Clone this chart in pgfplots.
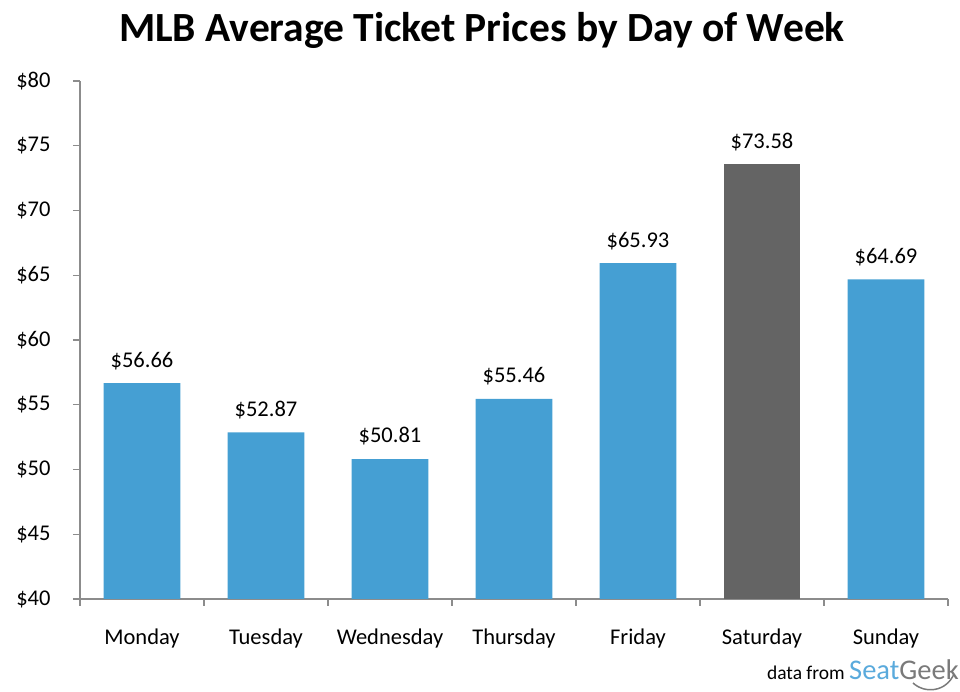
\documentclass[border=0pt]{standalone}
\usepackage{fontspec}
\setmainfont{Carlito}
\usepackage{pgfplots}
\pgfplotsset{compat=1.18}
\definecolor{barblue}{HTML}{459FD3}
\definecolor{bargray}{HTML}{646464}
\definecolor{axisgray}{HTML}{8C8C8C}
\definecolor{seatblue}{HTML}{5AAADC}
\definecolor{geekgray}{HTML}{7A7A7A}

\begin{document}
\begin{tikzpicture}
% bounding box matches the 960x692 reference, 1px = 1pt, axis origin at (80,599)
\path[use as bounding box] (-80pt,-93pt) rectangle (880pt,599pt);
\begin{axis}[
	scale only axis,
	width=868pt, height=518pt,
	at={(0pt,0pt)}, anchor=south west,
	ymin=40, ymax=80,
	ytick={40,45,...,80},
	xmin=-0.5, xmax=6.5,
	xtick={0,...,6},
	xticklabels={Monday,Tuesday,Wednesday,Thursday,Friday,Saturday,Sunday},
	minor xtick={-0.5,0.5,...,6.5},
	major x tick style={draw=none},
	axis x line=bottom, axis y line=left,
	axis line style={-, axisgray, line width=1.2pt},
	tick style={axisgray, line width=1.2pt},
	tick align=outside,
	major tick length=7pt, minor tick length=7pt,
	/pgf/number format/assume math mode=true,
	yticklabel={\$\pgfmathprintnumber{\tick}},
	y tick label style={font=\fontsize{22.5}{26}\selectfont, xshift=-19pt},
	x tick label style={font=\fontsize{22.5}{26}\selectfont, yshift=-19pt},
	ybar, bar width=0.62,
	nodes near coords={\$\pgfmathprintnumber[fixed,fixed zerofill,precision=2]{\pgfplotspointmeta}},
	nodes near coords style={font=\fontsize{22.5}{26}\selectfont, text=black, yshift=10pt},
]
\addplot[draw=none, fill=barblue, bar shift=0pt] coordinates {(0,56.66) (1,52.87) (2,50.81) (3,55.46) (4,65.93) (6,64.69)};
\addplot[draw=none, fill=bargray, bar shift=0pt] coordinates {(5,73.58)};
\end{axis}
\node[anchor=base, font=\fontsize{41.5}{46}\selectfont\bfseries] at (402pt,557pt) {MLB Average Ticket Prices by Day of Week};
\node[anchor=base east, inner sep=0pt, font=\fontsize{19.5}{22}\selectfont] (df) at (765pt,-81pt) {data from};
\node[anchor=base west, inner sep=0pt, font=\fontsize{28.5}{32}\selectfont] (sg) at (769pt,-81pt) {\textcolor{seatblue}{Seat}\textcolor{geekgray}{Geek}};
\draw[geekgray, line width=1.5pt] (833pt,-84pt) .. controls (845pt,-95pt) and (866pt,-93pt) .. (874pt,-75pt);
\end{tikzpicture}
\end{document}
